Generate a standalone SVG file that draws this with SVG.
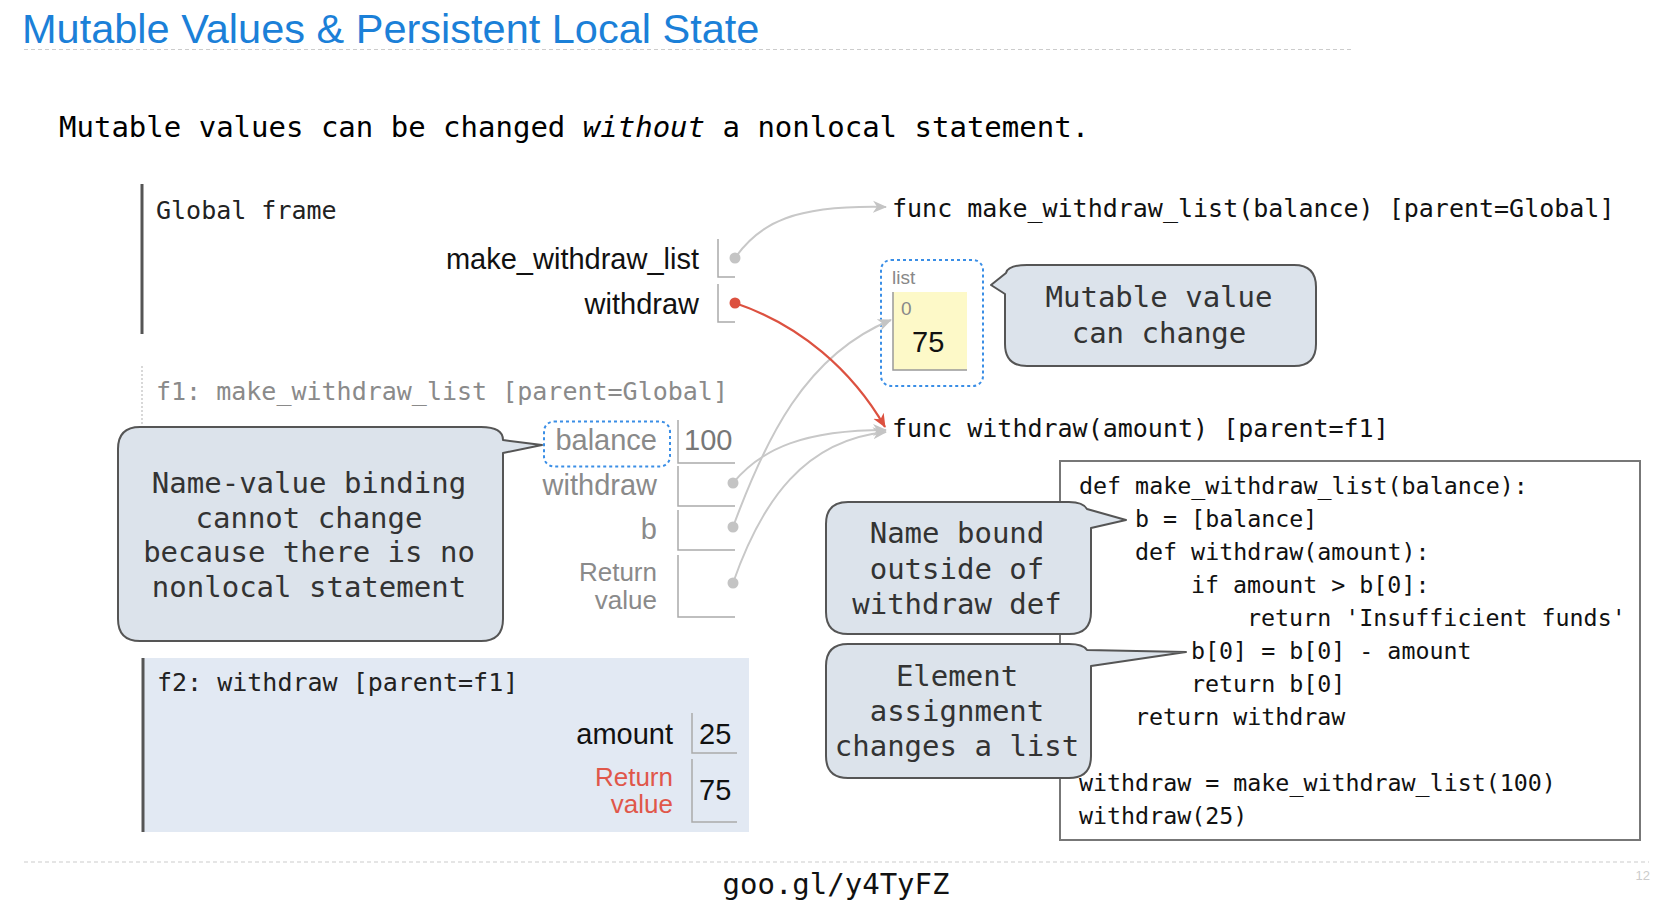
<svg xmlns="http://www.w3.org/2000/svg" width="1670" height="908" viewBox="0 0 1670 908">
<style>
.mono{font-family:"DejaVu Sans Mono","Liberation Mono",monospace}
.sans{font-family:"Liberation Sans",Arial,sans-serif}
.callout{fill:#dce3eb;stroke:#555;stroke-width:2;stroke-linejoin:round}
.ctext{font-family:"DejaVu Sans Mono","Liberation Mono",monospace;font-size:29px;fill:#333;text-anchor:middle}
.box{stroke:#aaa;fill:none;stroke-width:1.5}
.lbl{font-family:"Liberation Sans",Arial,sans-serif;font-size:29px;text-anchor:end}
.rv{font-family:"Liberation Sans",Arial,sans-serif;font-size:26px;text-anchor:end}
.code{font-family:"DejaVu Sans Mono","Liberation Mono",monospace;font-size:23.3px;fill:#111}
.conn{fill:none;stroke:#c8c8c8;stroke-width:2}
.dash{stroke:#ccc;stroke-width:1.2;stroke-dasharray:4 3}
</style>
<defs>
<marker id="ahg" markerWidth="16" markerHeight="14" refX="13" refY="7" orient="auto" markerUnits="userSpaceOnUse"><path d="M0,1 L14,7 L0,13 L4,7 Z" fill="#c4c4c4"/></marker>
<marker id="ahr" markerWidth="16" markerHeight="14" refX="13" refY="7" orient="auto" markerUnits="userSpaceOnUse"><path d="M0,1 L14,7 L0,13 L4,7 Z" fill="#dc5140"/></marker>
</defs>
<rect width="1670" height="908" fill="#fff"/>
<g id="title">
<text x="22" y="43" class="sans" font-size="41.5" fill="#1b80d8">Mutable Values &amp; Persistent Local State</text>
<line x1="24" y1="49.5" x2="1353" y2="49.5" class="dash"/>
</g>
<g id="subtitle">
<text x="59" y="137" class="mono" font-size="29" fill="#000">Mutable values can be changed <tspan font-style="italic">without</tspan> a nonlocal statement.</text>
</g>
<g id="global-frame">
<line x1="142" y1="184" x2="142" y2="334" stroke="#555" stroke-width="3"/>
<text x="156" y="219" class="mono" font-size="25" fill="#222">Global frame</text>
<text x="699" y="269" class="lbl" fill="#111">make_withdraw_list</text>
<path d="M718,239 V277 H735" class="box"/>
<text x="699" y="314" class="lbl" fill="#111">withdraw</text>
<path d="M718,284 V322 H735" class="box"/>
</g>
<g id="f1-frame">
<line x1="142" y1="366" x2="142" y2="625" stroke="#ccc" stroke-width="1.5" stroke-dasharray="2 2"/>
<text x="156" y="400" class="mono" font-size="25" fill="#8a8a8a">f1: make_withdraw_list [parent=Global]</text>
<rect x="544" y="421.5" width="126" height="45" rx="10" fill="none" stroke="#3a8ee6" stroke-width="2" stroke-dasharray="3 3"/>
<text x="657" y="450" class="lbl" fill="#8a8a8a">balance</text>
<text x="684" y="450" class="sans" font-size="29" fill="#777">100</text>
<path d="M678,420 V463 H735" class="box"/>
<text x="657" y="495" class="lbl" fill="#8a8a8a">withdraw</text>
<path d="M678,466 V506 H735" class="box"/>
<text x="657" y="539" class="lbl" fill="#8a8a8a">b</text>
<path d="M678,510 V550 H735" class="box"/>
<text x="657" y="581" class="rv" fill="#8a8a8a">Return</text>
<text x="657" y="609" class="rv" fill="#8a8a8a">value</text>
<path d="M678,555 V617 H735" class="box"/>
</g>
<g id="f2-frame">
<rect x="142" y="658" width="607" height="174" fill="#e2e9f3"/>
<line x1="143" y1="658" x2="143" y2="832" stroke="#555" stroke-width="3"/>
<text x="157" y="691" class="mono" font-size="25" fill="#222">f2: withdraw [parent=f1]</text>
<text x="673" y="744" class="lbl" fill="#111">amount</text>
<text x="699" y="744" class="sans" font-size="29" fill="#111">25</text>
<path d="M692,713 V753 H737" class="box"/>
<text x="673" y="786" class="rv" fill="#e0574a">Return</text>
<text x="673" y="813" class="rv" fill="#e0574a">value</text>
<text x="699" y="800" class="sans" font-size="29" fill="#111">75</text>
<path d="M692,759 V822 H737" class="box"/>
</g>
<g id="func-make-withdraw-list">
<text x="892" y="217" class="mono" font-size="25" fill="#111">func make_withdraw_list(balance) [parent=Global]</text>
</g>
<g id="list-object">
<rect x="881" y="260" width="102" height="126" rx="10" fill="none" stroke="#3a8ee6" stroke-width="2" stroke-dasharray="3 3"/>
<text x="892" y="284" class="sans" font-size="19" fill="#888">list</text>
<rect x="893" y="292" width="74" height="78" fill="#fdf9c8"/>
<path d="M893,292 V370 H967" fill="none" stroke="#999" stroke-width="1.5"/>
<text x="901" y="315" class="sans" font-size="19" fill="#888">0</text>
<text x="912" y="352" class="sans" font-size="29" fill="#111">75</text>
</g>
<g id="func-withdraw">
<text x="892" y="437" class="mono" font-size="25" fill="#111">func withdraw(amount) [parent=f1]</text>
</g>
<g id="code-box">
<rect x="1060" y="461" width="580" height="379" fill="#fff" stroke="#777" stroke-width="2"/>
<text x="1079" y="494" class="code">def make_withdraw_list(balance):</text>
<text x="1135" y="527" class="code">b = [balance]</text>
<text x="1135" y="560" class="code">def withdraw(amount):</text>
<text x="1191" y="593" class="code">if amount &gt; b[0]:</text>
<text x="1247" y="626" class="code">return 'Insufficient funds'</text>
<text x="1191" y="659" class="code">b[0] = b[0] - amount</text>
<text x="1191" y="692" class="code">return b[0]</text>
<text x="1135" y="725" class="code">return withdraw</text>
<text x="1079" y="791" class="code">withdraw = make_withdraw_list(100)</text>
<text x="1079" y="824" class="code">withdraw(25)</text>
</g>
<g id="callout-name-value">
<path class="callout" d="M140,427 H481 Q503,427 503,440 L542,445 L503,453 V619 Q503,641 481,641 H140 Q118,641 118,619 V449 Q118,427 140,427 Z"/>
<text x="309" y="493" class="ctext">Name-value binding</text>
<text x="309" y="528" class="ctext">cannot change</text>
<text x="309" y="562" class="ctext">because there is no</text>
<text x="309" y="597" class="ctext">nonlocal statement</text>
</g>
<g id="callout-mutable">
<path class="callout" d="M1027,265 H1294 Q1316,265 1316,287 V344 Q1316,366 1294,366 H1027 Q1005,366 1005,344 V294 L991,285 L1006,273 Q1008,265 1027,265 Z"/>
<text x="1159" y="307" class="ctext">Mutable value</text>
<text x="1159" y="343" class="ctext">can change</text>
</g>
<g id="callout-name-bound">
<path class="callout" d="M848,502 H1069 Q1083,502 1087,509 L1126,520 L1091,528 V612 Q1091,634 1069,634 H848 Q826,634 826,612 V524 Q826,502 848,502 Z"/>
<text x="957" y="543" class="ctext">Name bound</text>
<text x="957" y="579" class="ctext">outside of</text>
<text x="957" y="614" class="ctext">withdraw def</text>
</g>
<g id="callout-element">
<path class="callout" d="M848,644 H1069 Q1083,644 1087,650 L1186,652 L1091,666 V756 Q1091,778 1069,778 H848 Q826,778 826,756 V666 Q826,644 848,644 Z"/>
<text x="957" y="686" class="ctext">Element</text>
<text x="957" y="721" class="ctext">assignment</text>
<text x="957" y="756" class="ctext">changes a list</text>
</g>
<g id="connectors">
<path class="conn" d="M735,258 C760,222 795,205 886,207" marker-end="url(#ahg)"/>
<path class="conn" d="M733,483 C762,448 805,430 886,430" marker-end="url(#ahg)"/>
<path class="conn" d="M733,527 C765,440 805,355 891,320" marker-end="url(#ahg)"/>
<path class="conn" d="M733,583 C762,500 805,440 886,432" marker-end="url(#ahg)"/>
<path d="M735,303 C800,325 852,370 885,427" fill="none" stroke="#dc5140" stroke-width="2.2" marker-end="url(#ahr)"/>
<circle cx="735" cy="258" r="5.5" fill="#c4c4c4"/>
<circle cx="735" cy="303" r="5.5" fill="#dc5140"/>
<circle cx="733" cy="483" r="5.5" fill="#c4c4c4"/>
<circle cx="733" cy="527" r="5.5" fill="#c4c4c4"/>
<circle cx="733" cy="583" r="5.5" fill="#c4c4c4"/>
</g>
<g id="footer">
<line x1="24" y1="862" x2="1649" y2="862" class="dash"/>
<text x="836" y="894" class="mono" font-size="29" fill="#111" text-anchor="middle">goo.gl/y4TyFZ</text>
<text x="1650" y="880" class="sans" font-size="13" fill="#ccc" text-anchor="end">12</text>
</g>
</svg>
